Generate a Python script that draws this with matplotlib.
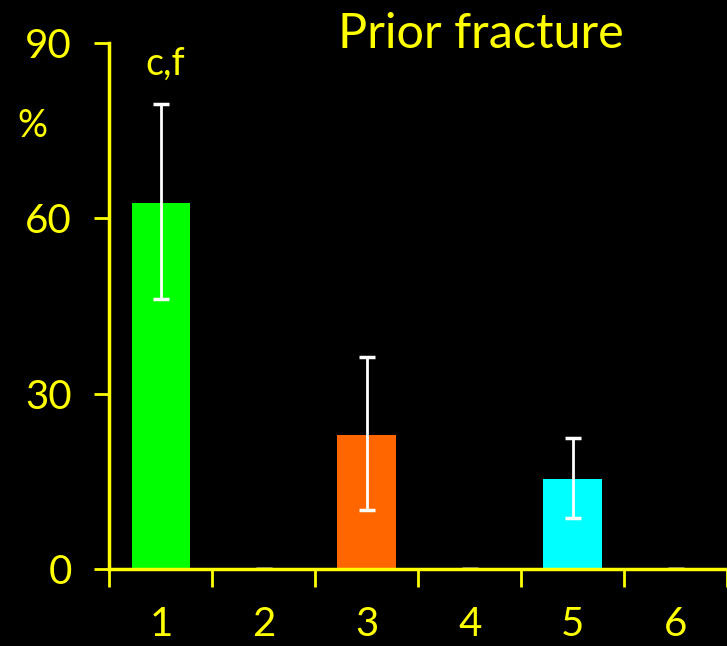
import matplotlib.pyplot as plt
import numpy as np

# data
groups = ['1', '2', '3', '4', '5', '6']
values = [62.6, 0, 22.9, 0, 15.4, 0]
err_low = [46.2, 0, 10.1, 0, 8.8, 0]
err_high = [79.6, 0, 36.2, 0, 22.4, 0]
bar_colors = ['#00ff00', '#000000', '#ff6600', '#000000', '#00ffff', '#000000']
yticks = [0, 30, 60, 90]


def main():
    plt.rcParams['font.family'] = ['Lato', 'DejaVu Sans']
    yellow = '#ffff00'

    fig = plt.figure(figsize=(7.27, 6.46), dpi=100, facecolor='black')
    ax = fig.add_axes([0.1506, 0.1192, 0.8494, 0.8142])
    ax.set_facecolor('black')

    x = np.arange(1, len(groups) + 1)
    vals = np.array(values)
    yerr = [vals - np.array(err_low), np.array(err_high) - vals]

    ax.bar(x, vals, width=0.57, color=bar_colors, zorder=2)
    ax.errorbar(x, vals, yerr=yerr, fmt='none', ecolor='white',
                elinewidth=2, capsize=6, capthick=2.5, zorder=3)

    ax.set_xlim(0.5, 6.48)
    ax.set_ylim(0, 90)

    # ticks between categories, labels under the centres
    ax.set_xticks(np.arange(0.5, 7, 1.0))
    ax.set_xticklabels([])
    ax.set_xticks(x, minor=True)
    ax.set_xticklabels(groups, minor=True)
    ax.tick_params(axis='x', which='major', direction='out', length=13,
                   width=2, color=yellow)
    ax.tick_params(axis='x', which='minor', length=0, pad=27,
                   labelsize=29, labelcolor=yellow)

    ax.set_yticks(yticks)
    ax.tick_params(axis='y', direction='out', length=11, width=2,
                   color=yellow, labelsize=29, labelcolor=yellow, pad=16)

    for side in ['top', 'right']:
        ax.spines[side].set_visible(False)
    for side in ['left', 'bottom']:
        ax.spines[side].set_color(yellow)
        ax.spines[side].set_linewidth(2.5)
        ax.spines[side].set_zorder(4)

    ax.text(-0.125, 0.842, '%', transform=ax.transAxes, color=yellow,
            fontsize=27, ha='center', va='center')
    ax.text(1.04, 84.5, 'c,f', color=yellow, fontsize=27,
            ha='center', va='baseline')
    fig.text(0.661, 0.926, 'Prior fracture', color=yellow, fontsize=35,
             ha='center', va='baseline')

    fig.savefig('out.png', dpi=100, facecolor='black')


if __name__ == '__main__':
    main()
